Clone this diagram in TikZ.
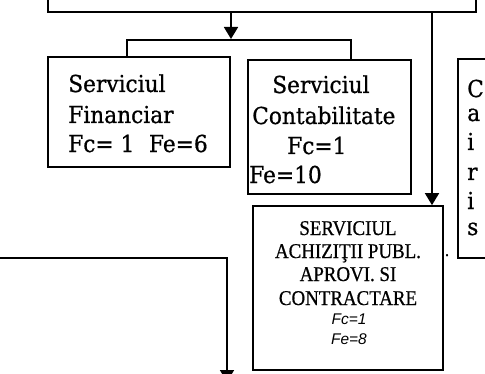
\documentclass[tikz,border=0pt]{standalone}
\usepackage{fontspec}
\setmainfont{DejaVu Serif}[FakeStretch=0.93]
\newfontfamily\bigserif{DejaVu Serif}[FakeStretch=0.93,FakeBold=0.7]
\newfontfamily\condserif{Liberation Serif}[FakeStretch=0.9,FakeBold=0.6]
\newfontfamily\sansfnt{Liberation Sans}
\usetikzlibrary{arrows.meta,fit}
\begin{document}
\begin{tikzpicture}[x=0.75pt,y=-0.75pt,
  box/.style={draw, line width=1.3pt, inner sep=0pt},
  conn/.style={line width=1.3pt},
  arr/.style={line width=1.3pt, -{Triangle[width=10.5pt,length=9pt]}},
  big/.style={anchor=base west, inner sep=0pt, font=\bigserif\fontsize{17.5pt}{22.5pt}\selectfont},
  caps/.style={anchor=base, inner sep=0pt, font=\condserif\fontsize{15.75pt}{18pt}\selectfont},
  sit/.style={anchor=base, inner sep=0pt, font=\sansfnt\itshape\fontsize{11.6pt}{13pt}\selectfont}]
\useasboundingbox (0,0) rectangle (485,374);
\fill[white] (0,0) rectangle (485,374);
\clip (0,0) rectangle (485,374);

% boxes
\node[box, fit={(48,-30) (476,12)}] (top) {};
\node[box, fit={(48,57) (230,167)}] (fin) {};
\node[box, fit={(248,60) (411,194)}] (cont) {};
\node[box, fit={(253,206) (443,370)}] (ach) {};
\node[box, fit={(458,59) (500,258)}] (right) {};

% texts
\node[big] (f1) at (68,92) {Serviciul};
\node[big] (f2) at (68,123) {Financiar};
\node[big] (f3) at (68,152) {Fc= 1\hspace{11pt}Fe=6};

\node[big] (c1) at (272,93) {Serviciul};
\node[big] (c2) at (252,124) {Contabilitate};
\node[big] (c3) at (287,154) {Fc=1};
\node[big] (c4) at (249,183) {Fe=10};

\node[caps] (a1) at (348,235) {SERVICIUL};
\node[caps] (a2) at (348,258) {ACHIZIŢII PUBL.};
\node[caps] (a3) at (348,281) {APROVI. SI};
\node[caps] (a4) at (348,305) {CONTRACTARE};
\node[sit] (a5) at (349,324) {Fc=1};
\node[sit] (a6) at (349,344) {Fe=8};

\node[big] (r1) at (467,97) {C};
\node[big] (r2) at (467,121) {a};
\node[big] (r3) at (467,150) {i};
\node[big] (r4) at (467,180) {r};
\node[big] (r5) at (467,209) {i};
\node[big] (r6) at (467,235) {s};

\node[anchor=base, inner sep=0pt, font=\bigserif\fontsize{12pt}{14pt}\selectfont] (dot) at (447,256) {.};

% connectors
\coordinate (j) at (231,39);
\coordinate (jl) at (127,40);
\coordinate (jr) at (351,40);
\draw[arr] (top.south -| j) -- (j);
\draw[conn] (fin.north -| jl) -- (jl) -- (jr) -- (cont.north -| jr);

\coordinate (k) at (432,0);
\draw[arr] (top.south -| k) -- (ach.north -| k);

\coordinate (l0) at (-5,258);
\coordinate (l1) at (227,258);
\coordinate (l2) at (227,382);
\draw[arr] (l0) -- (l1) -- (l2);
\end{tikzpicture}
\end{document}
